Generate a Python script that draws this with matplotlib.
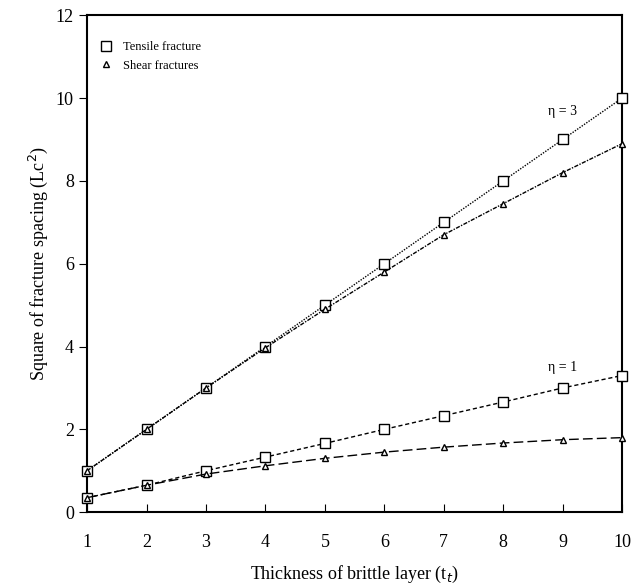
import matplotlib.pyplot as plt

plt.rcParams['font.family'] = ['Liberation Serif', 'DejaVu Serif']

# espessura da camada frágil
x = [1, 2, 3, 4, 5, 6, 7, 8, 9, 10]
# eta = 3
tensil_3 = [1, 2, 3, 4, 5, 6, 7, 8, 9, 10]
cisalh_3 = [1, 2, 3, 3.97, 4.9, 5.8, 6.7, 7.45, 8.2, 8.9]
# eta = 1
tensil_1 = [0.35, 0.65, 1.0, 1.33, 1.66, 2.0, 2.33, 2.66, 3.0, 3.3]
cisalh_1 = [0.35, 0.65, 0.92, 1.12, 1.3, 1.45, 1.57, 1.67, 1.75, 1.8]

fig = plt.figure(figsize=(6.31, 5.86), dpi=100)
ax = fig.add_axes([0.138, 0.126, 0.848, 0.848])

ax.plot(x, tensil_3, color='black', linestyle=(0, (1, 1)), linewidth=1,
        marker='s', markersize=7, markerfacecolor='white', markeredgecolor='black',
        label='Tensile fracture', clip_on=False, zorder=3)
ax.plot(x, cisalh_3, color='black', linestyle=(0, (3, 1, 1, 1)), linewidth=1,
        marker='^', markersize=5, markerfacecolor='white', markeredgecolor='black',
        label='Shear fractures', clip_on=False, zorder=3)
ax.plot(x, tensil_1, color='black', linestyle=(0, (3, 2)), linewidth=1,
        marker='s', markersize=7, markerfacecolor='white', markeredgecolor='black',
        clip_on=False, zorder=3)
ax.plot(x, cisalh_1, color='black', linestyle=(0, (7, 3)), linewidth=1,
        marker='^', markersize=5, markerfacecolor='white', markeredgecolor='black',
        clip_on=False, zorder=3)

ax.text(8.75, 9.6, 'η = 3', fontsize=10)
ax.text(8.75, 3.4, 'η = 1', fontsize=10)

ax.set_xlim(1, 10)
ax.set_ylim(0, 12)
ax.set_xticks(range(1, 11))
ax.set_yticks(range(0, 13, 2))
ax.tick_params(axis='x', direction='in', length=6, labelsize=13, pad=16)
ax.tick_params(axis='y', direction='out', length=6, labelsize=13)
for s in ax.spines.values():
    s.set_linewidth(1.5)

ax.set_xlabel('Thickness of brittle layer (t$_t$)', fontsize=13, labelpad=9)
ax.set_ylabel('Square of fracture spacing (Lc$^2$)', fontsize=13)

ax.legend(loc='upper left', frameon=False, fontsize=9, handlelength=1.2,
          bbox_to_anchor=(0.0, 0.97))
for h in ax.get_legend().legend_handles:
    h.set_linestyle('None')

plt.savefig('out.png', dpi=100)
